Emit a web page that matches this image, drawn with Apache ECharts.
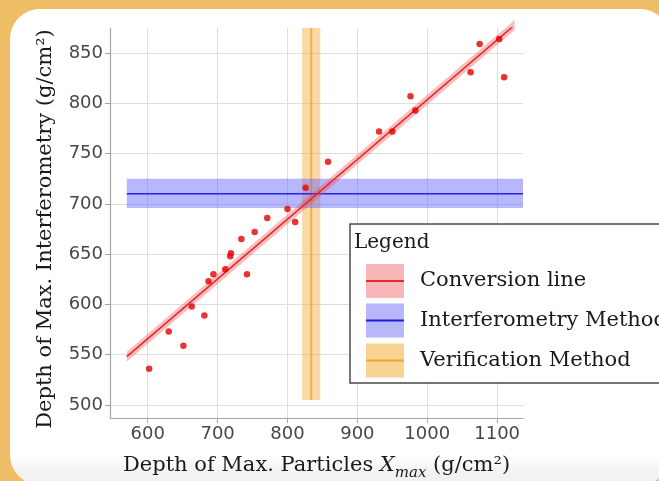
<!DOCTYPE html>
<html>
<head>
<meta charset="utf-8">
<script src="https://cdn.jsdelivr.net/npm/echarts@6/dist/echarts.min.js"></script>
<style>
  html, body { margin: 0; padding: 0; width: 659px; height: 481px; overflow: hidden; background: #eebd66; }
  #card {
    position: absolute; left: 10px; top: 9px; width: 660px; height: 476px;
    border-radius: 30px;
    background: linear-gradient(to bottom, #ffffff 0%, #ffffff 94%, #f3f3f3 97%, #f1f1f1 100%);
  }
  #chart { position: absolute; left: 0; top: 0; width: 659px; height: 481px; }
</style>
</head>
<body>
<div id="card"></div>
<div id="chart"></div>
<script>
// Measured shower maxima: particle-based Xmax vs. interferometric Xmax (g/cm²)
const particleXmax = [602, 630, 651, 663, 681, 687, 694, 711, 718, 719, 734, 742, 753, 771,
                      800, 811, 826, 858, 931, 950, 976, 983, 1062, 1075, 1103, 1110];
const interfXmax   = [536, 573, 559, 598, 589, 623, 630, 635, 648, 651, 665, 630, 672, 686,
                      695, 682, 716, 742, 772, 772, 807, 793, 831, 859, 864, 826];

// Fitted conversion line and its uncertainty band
const conversionX     = [570, 1125];
const conversionY     = [548, 878];
const conversionLower = [543, 873];
const conversionUpper = [553, 883];

// Interferometry method: level and band (horizontal)
const interfSpanX = [570, 1137];
const interfLevel = 710;
const interfBand  = [696, 725];

// Verification method: level and band (vertical)
const verifSpanY = [505, 875];
const verifLevel = 834;
const verifBand  = [821, 847];

// Axis ticks
const xTicks = [600, 700, 800, 900, 1000, 1100];
const yTicks = [500, 550, 600, 650, 700, 750, 800, 850];

const SERIF = "'DejaVu Serif', 'Liberation Serif', serif";
const SANS = "'DejaVu Sans', sans-serif";

const chart = echarts.init(document.getElementById('chart'), null, { renderer: 'canvas' });

function polygonSeries(name, points, fill, z) {
  return {
    name, type: 'custom', z, silent: true,
    data: [0],
    renderItem: (params, api) => ({
      type: 'polygon',
      shape: { points: points.map(p => api.coord(p)) },
      style: { fill: fill, stroke: null }
    })
  };
}

const conversionBandPts = [
  [conversionX[0], conversionLower[0]], [conversionX[1], conversionLower[1]],
  [conversionX[1], conversionUpper[1]], [conversionX[0], conversionUpper[0]]
];
const interfBandPts = [
  [interfSpanX[0], interfBand[0]], [interfSpanX[1], interfBand[0]],
  [interfSpanX[1], interfBand[1]], [interfSpanX[0], interfBand[1]]
];
const verifBandPts = [
  [verifBand[0], verifSpanY[0]], [verifBand[1], verifSpanY[0]],
  [verifBand[1], verifSpanY[1]], [verifBand[0], verifSpanY[1]]
];

const axisGray = '#a6a6a6';
const gridGray = '#dedede';
const textDark = '#1a1a1a';

// Hand-built legend box (swatch = band with its centre line)
const legendItems = [
  { label: 'Conversion line', band: '#f7b6b8', line: '#e32a2f', cy: 281 },
  { label: 'Interferometry Method', band: '#b7b7f9', line: '#1c1ce6', cy: 320.5 },
  { label: 'Verification Method', band: '#f9d393', line: '#f0a63a', cy: 360.5 }
];
const legendGraphics = [
  { type: 'rect', shape: { x: 350, y: 224, width: 330, height: 159 },
    style: { fill: '#ffffff', stroke: '#4a4a4a', lineWidth: 1.5 }, z: 100 },
  { type: 'text', x: 354, y: 243, z: 101,
    style: { text: 'Legend', font: '20px ' + SERIF, fill: textDark, verticalAlign: 'middle' } }
];
legendItems.forEach(it => {
  legendGraphics.push(
    { type: 'rect', shape: { x: 366, y: it.cy - 17, width: 38, height: 34 },
      style: { fill: it.band }, z: 101 },
    { type: 'line', shape: { x1: 366, y1: it.cy, x2: 404, y2: it.cy },
      style: { stroke: it.line, lineWidth: 2 }, z: 102 },
    { type: 'text', x: 420, y: it.cy, z: 101,
      style: { text: it.label, font: '21px ' + SERIF, fill: textDark, verticalAlign: 'middle' } }
  );
});

const option = {
  backgroundColor: 'transparent',
  animation: false,
  grid: { left: 110, right: 136, top: 28, bottom: 63, containLabel: false, outerBoundsMode: 'none' },
  xAxis: {
    type: 'value', min: 546, max: 1137,
    axisLine: { show: true, lineStyle: { color: axisGray, width: 1.2 } },
    axisTick: { show: true, customValues: xTicks, length: 5, lineStyle: { color: axisGray } },
    axisLabel: { customValues: xTicks, formatter: v => String(v),
                 color: '#474747', fontSize: 18, fontFamily: SANS, margin: 7 },
    splitLine: { show: true, lineStyle: { color: gridGray, width: 1 } },
    name: '{n|Depth of Max. Particles }{i|X}{s|max}{n| (g/cm²)}',
    nameLocation: 'middle', nameGap: 37,
    nameTextStyle: {
      rich: {
        n: { fontFamily: SERIF, fontSize: 21, color: textDark, lineHeight: 25, verticalAlign: 'top' },
        i: { fontFamily: SERIF, fontSize: 21, fontStyle: 'italic', color: textDark, lineHeight: 25, verticalAlign: 'top' },
        s: { fontFamily: SERIF, fontSize: 15, fontStyle: 'italic', color: textDark, lineHeight: 17,
             verticalAlign: 'top', padding: [11, 0, 0, 0] }
      }
    }
  },
  yAxis: {
    type: 'value', min: 487, max: 875,
    axisLine: { show: true, lineStyle: { color: axisGray, width: 1.2 } },
    axisTick: { show: true, customValues: yTicks, length: 5, lineStyle: { color: axisGray } },
    axisLabel: { customValues: yTicks, formatter: v => String(v),
                 color: '#474747', fontSize: 18, fontFamily: SANS, margin: 7 },
    splitLine: { show: true, lineStyle: { color: gridGray, width: 1 } },
    name: 'Depth of Max. Interferometry (g/cm²)',
    nameLocation: 'middle', nameGap: 54,
    nameTextStyle: { fontFamily: SERIF, fontSize: 21, color: textDark, padding: [0, 12, 0, 0] }
  },
  graphic: legendGraphics,
  series: [
    polygonSeries('Verification band', verifBandPts, 'rgba(245,170,60,0.45)', 2),
    {
      name: 'Verification Method', type: 'line', z: 3, silent: true, symbol: 'none',
      data: [[verifLevel, verifSpanY[0]], [verifLevel, verifSpanY[1]]],
      lineStyle: { color: '#f2ae4a', width: 2 }
    },
    polygonSeries('Interferometry band', interfBandPts, 'rgba(95,95,250,0.45)', 4),
    {
      name: 'Interferometry Method', type: 'line', z: 5, silent: true, symbol: 'none',
      data: [[interfSpanX[0], interfLevel], [interfSpanX[1], interfLevel]],
      lineStyle: { color: '#2424e0', width: 1.5 }
    },
    polygonSeries('Conversion band', conversionBandPts, 'rgba(240,70,70,0.35)', 6),
    {
      name: 'Conversion line', type: 'line', z: 7, silent: true, symbol: 'none', clip: true,
      data: conversionX.map((x, i) => [x, conversionY[i]]),
      lineStyle: { color: '#e6262b', width: 1.5 }
    },
    {
      name: 'Showers', type: 'scatter', z: 8, symbolSize: 6.5,
      data: particleXmax.map((x, i) => [x, interfXmax[i]]),
      itemStyle: { color: '#e40000' }
    }
  ]
};

chart.setOption(option);
</script>
</body>
</html>
